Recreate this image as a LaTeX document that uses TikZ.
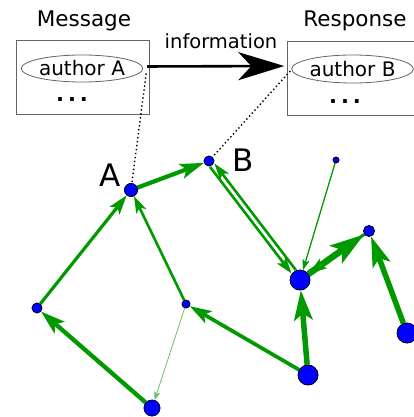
\documentclass[tikz,border=0pt]{standalone}
\usepackage{fontspec}
\setmainfont{DejaVu Sans}
\usetikzlibrary{arrows.meta,shapes.geometric}
\definecolor{eg}{RGB}{0,153,0}
\definecolor{boxgray}{RGB}{100,100,100}
\begin{document}
\begin{tikzpicture}[x=1pt,y=-1pt,
  vert/.style={circle,fill=blue,draw=black,line width=0.6pt,inner sep=0pt,minimum size=#1},
  edge/.style={draw=eg,line width=#1,-{Stealth[length=5pt 4.5,width=4pt 2.6,inset=1.5pt 0.9]}},
  txt/.style={font=\fontsize{21.5}{24}\selectfont,inner sep=0pt},
  bigtxt/.style={font=\fontsize{31}{34}\selectfont,inner sep=0pt},
  dotstxt/.style={font=\fontsize{21}{24}\selectfont\bfseries,inner sep=0pt},
  framebox/.style={draw=boxgray,line width=0.8pt,inner sep=0pt},
  authorell/.style={ellipse,draw=boxgray,line width=0.8pt,inner sep=0pt,font=\fontsize{20}{22}\selectfont},
  dotline/.style={line width=1.4pt,dash pattern=on 1.4pt off 2.6pt}]
\useasboundingbox (0,0) rectangle (414,417);
\clip (0,0) rectangle (414,417);

% top part
\node[txt] (msg) at (84,21) {Message};
\node[txt] (rsp) at (355,21) {Response};
\node[framebox,minimum width=133pt,minimum height=74pt,anchor=north west] (mbox) at (16,40) {};
\node[framebox,minimum width=140pt,minimum height=74pt,anchor=north west] (rbox) at (287,41) {};
\node[authorell,minimum width=120pt,minimum height=27pt] (eA) at (82,68.5) {author A};
\node[authorell,minimum width=115pt,minimum height=28pt] (eB) at (352.5,69) {author B};
\node[dotstxt] (dA) at (72,100) {.\kern4pt.\kern4pt.};
\node[dotstxt] (dB) at (345,102) {.\kern4pt.\kern4pt.};
\node[txt,font=\fontsize{19.5}{22}\selectfont] (info) at (221,41) {information};
\draw[line width=2.6pt,-{Stealth[length=46pt,width=28pt,inset=13pt]},shorten <=4pt,shorten >=7pt]
  ([yshift=2pt]eA.east) -- ([yshift=3pt]eB.west);

% graph nodes
\node[vert=13pt] (A) at (131,190) {};
\node[vert=10pt] (B) at (209,161) {};
\node[vert=6pt] (T) at (336,160) {};
\node[vert=20pt] (C) at (300,280) {};
\node[vert=11pt] (R) at (369,231) {};
\node[vert=20pt] (F) at (407,333) {};
\node[vert=10pt] (L) at (37,308) {};
\node[vert=8pt] (M) at (186,304) {};
\node[vert=16pt] (D) at (152,408) {};
\node[vert=20pt] (E) at (308,375) {};

\node[bigtxt] (la) at (110,175) {A};
\node[bigtxt] (lb) at (243,160) {B};

\draw[dotline] ([xshift=3pt,yshift=-5pt]eA.east) -- (A);
\draw[dotline] ([xshift=-1pt,yshift=-2pt]eB.west) -- (B);

% edges
\draw[edge=3.2pt] (L) -- (A);
\draw[edge=2.6pt] (M) -- (A);
\draw[edge=4.2pt] (A) -- (B);
\draw[edge=2.6pt,transform canvas={shift={(2.2,-1.7)}}] (C) -- (B);
\draw[edge=2.6pt,transform canvas={shift={(-2.2,1.7)}}] (B) -- (C);
\draw[edge=1.3pt] (T) -- (C);
\draw[edge=6.5pt] (C) -- (R);
\draw[edge=3pt] (R) -- (C);
\draw[edge=5.5pt] (F) -- (R);
\draw[edge=5.5pt] (E) -- (C);
\draw[edge=3.7pt] (E) -- (M);
\draw[edge=0.8pt,draw=eg!60] (M) -- (D);
\draw[edge=4.3pt] (D) -- (L);

% redraw nodes on top
\foreach \n/\s in {A/13pt,B/10pt,T/6pt,C/20pt,R/11pt,F/20pt,L/10pt,M/8pt,D/16pt,E/20pt}
  \node[vert=\s] at (\n) {};
\end{tikzpicture}
\end{document}
